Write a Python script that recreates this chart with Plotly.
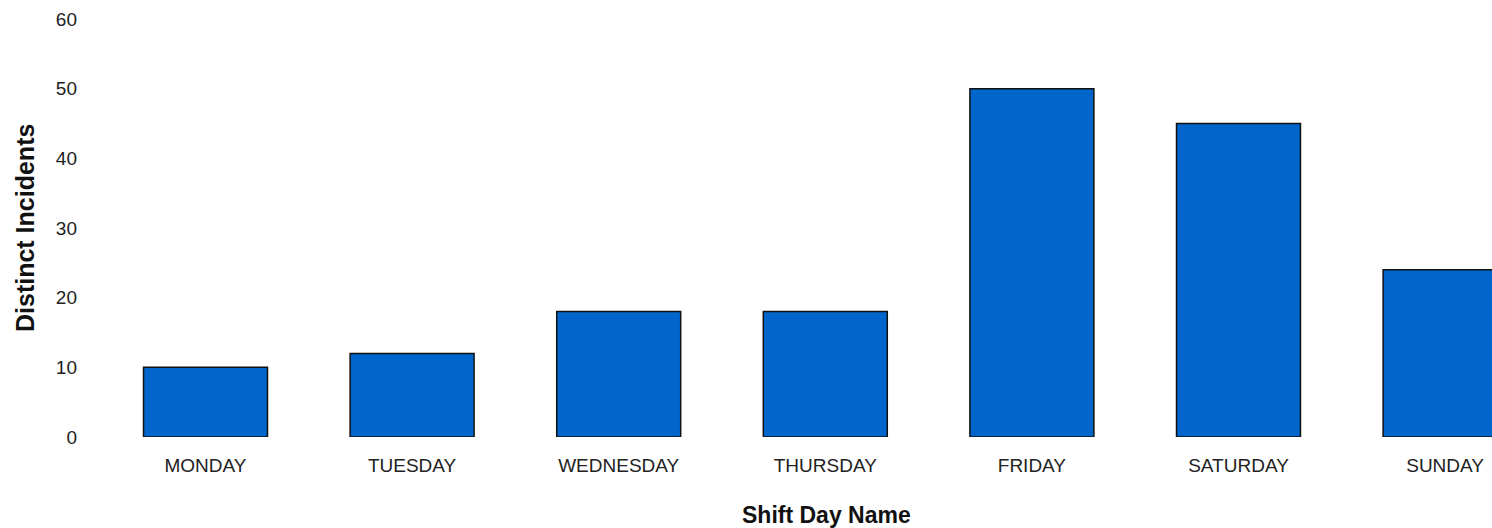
import plotly.graph_objects as go

days = ["MONDAY", "TUESDAY", "WEDNESDAY", "THURSDAY", "FRIDAY", "SATURDAY", "SUNDAY"]
incidents = [10, 12, 18, 18, 50, 45, 24]
y_ticks = [0, 10, 20, 30, 40, 50, 60]

W, H = 1492, 528
L, R, T, B = 82, 0, 19, 91
spacing = 206.6
first_center = 205.5
x0 = (L - first_center) / spacing
x1 = (W - R - first_center) / spacing

fig = go.Figure(go.Bar(
    x=days, y=incidents, width=0.6,
    marker=dict(color="#0066CC", line=dict(color="#111111", width=1.5)),
))

fig.update_layout(
    width=W, height=H,
    margin=dict(l=L, r=R, t=T, b=B, autoexpand=False),
    plot_bgcolor="white", paper_bgcolor="white",
    showlegend=False,
    font=dict(family="Liberation Sans, Arial, sans-serif", color="#222222"),
    xaxis=dict(range=[x0, x1], showgrid=False, showline=False, zeroline=False,
               automargin=False,
               ticks="", tickfont=dict(size=19, color="#222222"),
               ticklabelstandoff=15),
    yaxis=dict(range=[0, 60], tickvals=y_ticks, showgrid=False, showline=False,
               automargin=False,
               zeroline=False, ticks="", tickfont=dict(size=19, color="#222222"),
               ticklabelstandoff=4),
    annotations=[
        dict(text="<b>Shift Day Name</b>", xref="paper", yref="paper",
             x=(826 - L) / (W - L - R), y=-(515 - (H - B)) / (H - T - B),
             xanchor="center", yanchor="middle", showarrow=False,
             font=dict(size=23, color="#111111")),
        dict(text="<b>Distinct Incidents</b>", xref="paper", yref="paper",
             x=-(L - 25) / (W - L - R), y=0.5, textangle=-90,
             xanchor="center", yanchor="middle", showarrow=False,
             font=dict(size=25, color="#111111")),
    ],
)

fig.write_html(
    "out.html",
    config={"displayModeBar": False},
    post_script=(
        "document.body.style.margin='0';"
        "document.body.style.overflow='hidden';"
        "document.documentElement.style.overflow='hidden';"
    ),
)
